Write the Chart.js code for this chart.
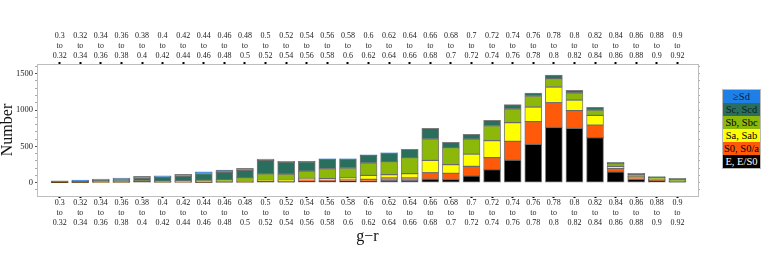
<!DOCTYPE html>
<html>
<head>
<meta charset="utf-8">
<script src="https://cdn.jsdelivr.net/npm/chart.js@4.4.1/dist/chart.umd.min.js"></script>
<style>
  html, body { margin: 0; padding: 0; background: #fff; }
  #wrap { position: relative; width: 761px; height: 270px; }
  #legend { position: absolute; left: 722px; top: 89px; width: 37px; border: 1px solid #bbb;
    font-family: 'Liberation Serif', serif; font-size: 10.5px; }
  #legend div { height: 13px; line-height: 13px; text-align: center; white-space: nowrap; overflow: hidden; }
</style>
</head>
<body>
<div id="wrap">
  <canvas id="c" width="761" height="270"></canvas>
  <div id="legend"></div>
</div>
<script>
// g-r bins, lower and upper edges
const LO = ['0.3','0.32','0.34','0.36','0.38','0.4','0.42','0.44','0.46','0.48','0.5','0.52','0.54','0.56','0.58','0.6',
  '0.62','0.64','0.66','0.68','0.7','0.72','0.74','0.76','0.78','0.8','0.82','0.84','0.86','0.88','0.9'];
const HI = ['0.32','0.34','0.36','0.38','0.4','0.42','0.44','0.46','0.48','0.5','0.52','0.54','0.56','0.58','0.6','0.62',
  '0.64','0.66','0.68','0.7','0.72','0.74','0.76','0.78','0.8','0.82','0.84','0.86','0.88','0.9','0.92'];

// counts per morphological type (bottom of stack first)
const E_ES0  = [3,5,6,6,16,6,6,5,8,7,14,11,18,18,21,18,37,37,50,46,96,179,312,528,761,748,619,151,46,28,9];
const S0_S0a = [1,1,2,2,3,3,4,3,3,3,10,12,20,15,18,28,28,28,87,83,128,165,257,312,339,243,174,46,23,9,10];
const SA_SAB = [1,1,1,2,2,2,3,5,3,4,8,10,22,22,28,55,46,60,170,119,170,234,257,202,216,147,133,28,14,5,3];
const SB_SBC = [2,3,4,4,6,8,12,18,28,55,90,85,100,137,135,170,179,220,294,234,206,206,188,151,115,96,73,37,32,28,20];
const SC_SCD = [6,9,18,24,35,55,65,95,100,100,185,165,128,133,124,104,119,115,147,73,64,73,60,41,50,37,37,18,14,14,18];
const GE_SD  = [12,18,19,26,25,22,25,25,32,28,18,10,5,5,4,10,3,0,0,0,0,0,0,0,0,0,0,0,0,0,0];

const Y_LABELS = [0, 500, 1000, 1500];

const TYPES = [
  { label: 'E, E/S0',  data: E_ES0,  color: '#000000', text: '#ffffff' },
  { label: 'S0, S0/a', data: S0_S0a, color: '#ff5a0a', text: '#000000' },
  { label: 'Sa, Sab',  data: SA_SAB, color: '#ffff00', text: '#000000' },
  { label: 'Sb, Sbc',  data: SB_SBC, color: '#8cb80a', text: '#000000' },
  { label: 'Sc, Scd',  data: SC_SCD, color: '#2a6e5e', text: '#0c1e1a' },
  { label: '≥Sd',      data: GE_SD,  color: '#1e80e6', text: '#0a1a40' },
];

const SERIF = "'Liberation Serif', 'DejaVu Serif', serif";
const Y_MIN = -183, Y_MAX = 1633;
const X_MIN = -1.1, X_MAX = 31;

// y ticks every 100, labelled every 500 (fresh objects per axis)
const yTicks = s => {
  const t = [];
  for (let v = -100; v <= 1600; v += 100) t.push({ value: v });
  s.ticks = t;
};
const binTicks = s => { s.ticks = LO.map((_, i) => ({ value: i })); };
const binLabel = v => [LO[v], 'to', HI[v]];

function xAxis(position, height, pad) {
  return {
    type: 'linear', position, min: X_MIN, max: X_MAX, stacked: true, offset: false,
    afterBuildTicks: binTicks,
    afterFit: s => { s.height = height; },
    ticks: { callback: binLabel, autoSkip: false, maxRotation: 0, padding: pad, color: '#222',
      font: { family: SERIF, size: 8, lineHeight: 1.25 } },
    grid: { offset: false, drawOnChartArea: false, tickLength: 2, tickWidth: 2, tickColor: '#000' },
    border: { color: '#bdbdbd' },
  };
}

const x = xAxis('bottom', 74, 0);
x.title = { display: true, text: 'g\u2212r', color: '#111', padding: { top: 0, bottom: 25 },
  font: { family: SERIF, size: 16, lineHeight: 1 } };

new Chart(document.getElementById('c'), {
  type: 'bar',
  data: {
    datasets: TYPES.map(t => ({
      label: t.label,
      data: t.data.map((v, i) => ({ x: i, y: v })),
      backgroundColor: t.color,
      borderColor: 'rgba(80,80,80,0.75)',
      borderWidth: 1,
      borderSkipped: false,
      barThickness: 17,
    })),
  },
  options: {
    responsive: false, animation: false,
    layout: { padding: { left: 0, right: 61, top: 0, bottom: 0 } },
    plugins: { legend: { display: false }, tooltip: { enabled: false } },
    scales: {
      x,
      x2: xAxis('top', 64, 1),
      y: {
        stacked: true, min: Y_MIN, max: Y_MAX,
        afterBuildTicks: yTicks,
        afterFit: s => { s.width = 37; },
        ticks: { callback: v => Y_LABELS.includes(v) ? String(v) : '', autoSkip: false, padding: 2, color: '#222',
          font: { family: SERIF, size: 8.5 } },
        grid: { drawOnChartArea: false, tickLength: 2,
          tickColor: c => Y_LABELS.includes(c.tick.value) ? '#555' : '#aaa' },
        border: { color: '#bdbdbd' },
        title: { display: true, text: 'Number', color: '#111', padding: 0,
          font: { family: SERIF, size: 16, lineHeight: 1 } },
      },
      y2: {
        position: 'right', min: Y_MIN, max: Y_MAX,
        afterBuildTicks: yTicks,
        afterFit: s => { s.width = 2; },
        ticks: { display: false },
        grid: { drawOnChartArea: false, tickLength: 2, tickColor: '#aaa' },
        border: { color: '#bdbdbd' },
      },
    },
  },
});

// legend, top entry = top of stack
const leg = document.getElementById('legend');
TYPES.slice().reverse().forEach(t => {
  const d = document.createElement('div');
  d.textContent = t.label;
  d.style.background = t.color;
  d.style.color = t.text;
  leg.appendChild(d);
});
</script>
</body>
</html>
